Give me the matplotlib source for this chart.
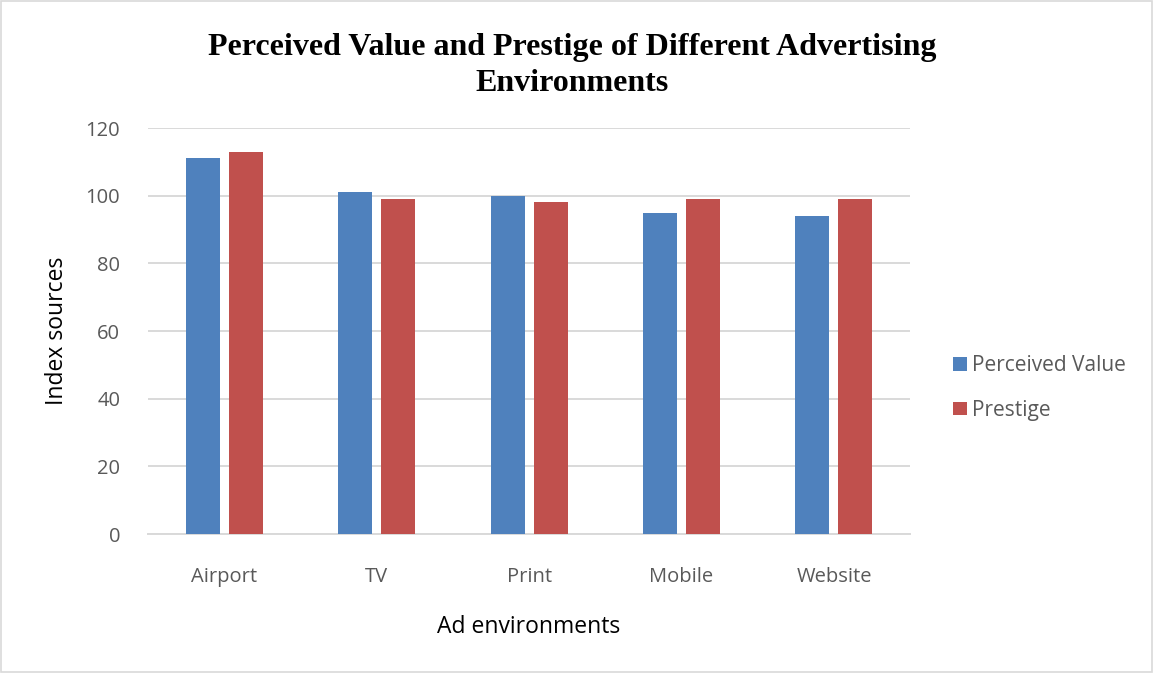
import numpy as np
import matplotlib.pyplot as plt
from matplotlib.patches import Rectangle

categories = ['Airport', 'TV', 'Print', 'Mobile', 'Website']
perceived_value = [111, 101, 100, 95, 94]
prestige = [113, 99, 98, 99, 99]
y_ticks = [0, 20, 40, 60, 80, 100, 120]

blue = '#4f81bd'
red = '#c0504d'
grid_col = '#d9d9d9'
tick_col = '#595959'
sans = ['Open Sans', 'DejaVu Sans']

fig = plt.figure(figsize=(11.53, 6.73), dpi=100)
ax = fig.add_axes([0.1284, 0.2065, 0.661, 0.6033])

x = np.arange(len(categories))
width = 0.223
offset = 0.141
ax.bar(x - offset, perceived_value, width, color=blue, label='Perceived Value', zorder=3)
ax.bar(x + offset, prestige, width, color=red, label='Prestige', zorder=3)

ax.set_xlim(-0.5, len(categories) - 0.5)
ax.set_ylim(0, 120)
ax.set_yticks(y_ticks)
ax.set_xticks(x)
ax.set_xticklabels(categories)
ax.yaxis.grid(True, color=grid_col, linewidth=1.4, zorder=0)
for s in ['top', 'right', 'left']:
    ax.spines[s].set_visible(False)
ax.spines['bottom'].set_color(grid_col)
ax.spines['bottom'].set_linewidth(1.4)
ax.tick_params(axis='both', length=0, labelsize=14.5, labelcolor=tick_col)
ax.tick_params(axis='x', pad=24)
ax.tick_params(axis='y', pad=20)
for lbl in ax.get_xticklabels() + ax.get_yticklabels():
    lbl.set_family(sans)

ax.set_xlabel('Ad environments', fontsize=16.5, family=sans, labelpad=20)
ax.set_ylabel('Index sources', fontsize=16.5, family=sans, labelpad=12)

fig.text(0.496, 0.903, 'Perceived Value and Prestige of Different Advertising\nEnvironments',
         ha='center', va='center', fontsize=23, fontweight='bold',
         family='Liberation Serif', linespacing=1.3)

leg = ax.legend(loc='center left', bbox_to_anchor=(1.032, 0.36), frameon=False,
                prop={'family': sans, 'size': 15}, labelcolor=tick_col,
                handlelength=0.65, handleheight=0.65, handletextpad=0.25,
                labelspacing=1.15)

fig.patches.append(Rectangle((0.001, 0.001), 0.998, 0.997, transform=fig.transFigure,
                             fill=False, edgecolor='#d9d9d9', linewidth=1.2))

fig.savefig('out.png', dpi=100)
